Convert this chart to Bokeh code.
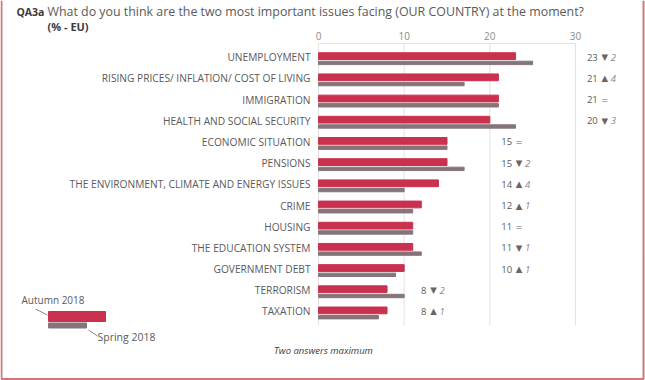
from bokeh.plotting import figure
from bokeh.models import ColumnDataSource, Range1d, Label
from bokeh.core.properties import value
from bokeh.embed import file_html
from bokeh.resources import INLINE

categories = ["UNEMPLOYMENT", "RISING PRICES/ INFLATION/ COST OF LIVING", "IMMIGRATION",
              "HEALTH AND SOCIAL SECURITY", "ECONOMIC SITUATION", "PENSIONS",
              "THE ENVIRONMENT, CLIMATE AND ENERGY ISSUES", "CRIME", "HOUSING",
              "THE EDUCATION SYSTEM", "GOVERNMENT DEBT", "TERRORISM", "TAXATION"]
autumn_2018 = [23, 21, 21, 20, 15, 15, 14, 12, 11, 11, 10, 8, 8]
spring_2018 = [25, 17, 21, 23, 15, 17, 10, 11, 11, 12, 9, 10, 7]
x_ticks = [0, 10, 20, 30]

CRIMSON = "#C9314F"
MAUVE = "#857579"
TXT = "#5A5A5A"
DARK = "#3A3A3A"
FONT = "Open Sans"

W, H = 645, 380
# layout geometry (pixels)
X0_PX, X30_PX = 318.0, 575.0
PX = (X30_PX - X0_PX) / 30.0        # pixels per unit
ROW0_PX, ROW = 56.7, 21.19          # first row centre, row pitch

def dx(px):
    return (px - X0_PX) / PX

def dy(py):
    return (py - ROW0_PX) / ROW

n = len(categories)
rows = list(range(n))
sym, chg, lab_x = [], [], []
for a, s in zip(autumn_2018, spring_2018):
    d = a - s
    sym.append("▲" if d > 0 else ("▼" if d < 0 else "="))
    chg.append(str(abs(d)) if d != 0 else "")
    lab_x.append((a // 10 + 1) * 10 + 2.6)

src = ColumnDataSource(dict(
    y=rows, ya=[r - 0.05 for r in rows], ys=[r + 0.27 for r in rows],
    autumn=autumn_2018, spring=spring_2018, cat=categories,
    atxt=[str(a) for a in autumn_2018], sym=sym, chg=chg, lx=lab_x))

p = figure(width=W, height=H, output_backend="svg", toolbar_location=None,
           x_range=Range1d(dx(0), dx(W)), y_range=Range1d(dy(H), dy(0)),
           min_border=0)
p.axis.visible = False
p.grid.visible = False
p.outline_line_color = None
p.background_fill_color = "white"
p.border_fill_color = "white"

y_top, y_bot = dy(43), dy(325)

# grid lines
p.segment(x0=x_ticks, x1=x_ticks, y0=[y_top] * len(x_ticks), y1=[y_bot] * len(x_ticks),
          line_color="#E2E2E2", line_width=1)
p.segment(x0=[x_ticks[0]], x1=[x_ticks[-1]], y0=[y_top], y1=[y_top],
          line_color="#E2E2E2", line_width=1)

# tick labels
p.text(x=x_ticks, y=[y_top] * len(x_ticks), text=[str(t) for t in x_ticks],
       y_offset=-8, text_align="center", text_baseline="middle",
       text_font=value(FONT), text_font_size="10px", text_color="#8C8C8C")

# bars
p.hbar(y="ya", left=0, right="autumn", height=0.32, color=CRIMSON, source=src)
p.hbar(y="ys", left=0, right="spring", height=0.16, color=MAUVE, source=src)

# category labels
p.text(x=0, y="y", text="cat", source=src, x_offset=-8, text_align="right",
       text_baseline="middle", text_font=value(FONT), text_font_size="10.2px",
       text_color=TXT)

# value / change labels
p.text(x="lx", y="y", text="atxt", source=src, text_align="right", text_baseline="middle",
       text_font=value(FONT), text_font_size="9.5px", text_color=TXT)
p.text(x="lx", y="y", text="sym", source=src, text_align="center", text_baseline="middle",
       x_offset=7, text_font=value("DejaVu Sans"), text_font_size="8.5px", text_color="#6E6266")
p.text(x="lx", y="y", text="chg", source=src, text_align="left", text_baseline="middle",
       x_offset=13, text_font=value(FONT), text_font_size="9.5px", text_color="#8A8A8A",
       text_font_style="italic")

# legend
p.quad(left=[dx(48)], right=[dx(105)], top=[dy(311)], bottom=[dy(321)], color=CRIMSON)
p.quad(left=[dx(48)], right=[dx(86)], top=[dy(322.5)], bottom=[dy(327.5)], color=MAUVE)
p.segment(x0=[dx(35), dx(88)], y0=[dy(308.5), dy(329.5)],
          x1=[dx(47), dx(97)], y1=[dy(314.5), dy(335.5)],
          line_color="#8C8C8C", line_width=1)

# frame border (left, right, bottom)
p.line(x=[dx(1), dx(1), dx(643), dx(643)], y=[dy(0), dy(378.5), dy(378.5), dy(0)],
       line_color="#D27878", line_width=2)

def lab(x, y, text, **kw):
    opts = dict(x=x, y=H - y, x_units="screen", y_units="screen", text=text,
                text_font=FONT, text_font_size="10px", text_color=TXT,
                text_baseline="middle")
    opts.update(kw)
    p.add_layout(Label(**opts))

lab(16, 11, "QA3a", text_font_style="bold", text_color=DARK, text_font_size="10.5px")
lab(47, 11, "What do you think are the two most important issues facing (OUR COUNTRY) at the moment?",
    text_font_size="12.4px")
lab(47, 26, "(% - EU)", text_font_style="bold", text_color=DARK, text_font_size="11px")
lab(21, 299, "Autumn 2018", text_font_size="10px")
lab(97, 336, "Spring 2018", text_font_size="10.5px")
lab(323, 350, "Two answers maximum", text_font_style="italic", text_color=DARK,
    text_font_size="9.5px", text_align="center")

open("out.html", "w").write(file_html(p, INLINE))
